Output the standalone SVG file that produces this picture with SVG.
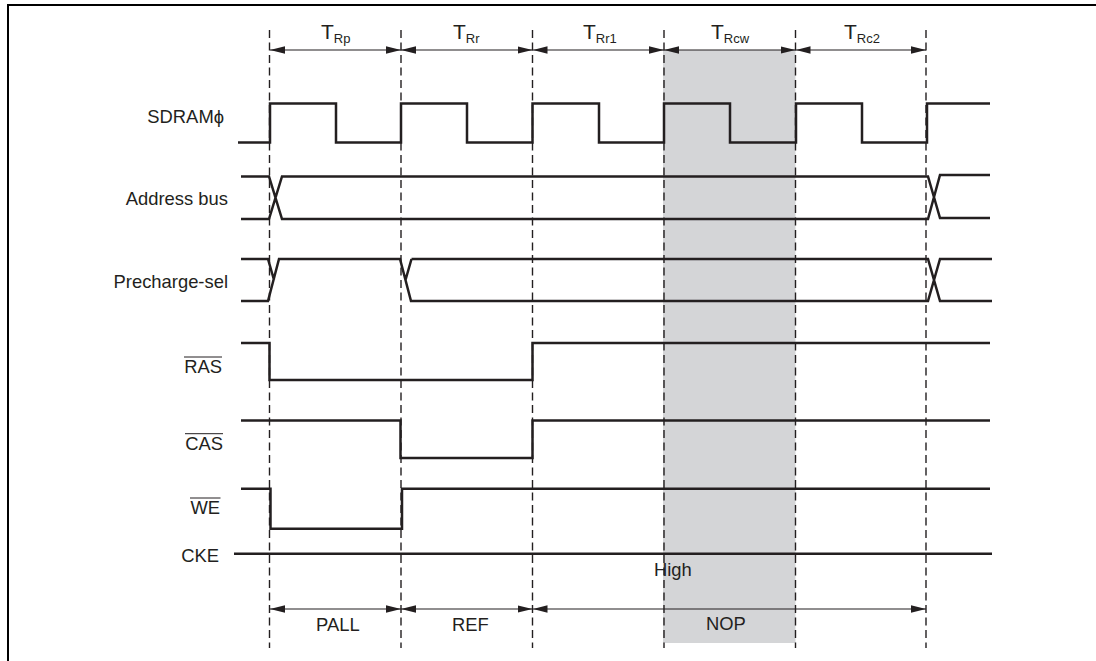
<svg xmlns="http://www.w3.org/2000/svg" width="1096" height="661" viewBox="0 0 1096 661">
<style>
text{font-family:"Liberation Sans",Arial,sans-serif;font-size:18.400px;fill:#231f20}
.e{text-anchor:end}
.t{font-size:21px}.s{font-size:13px}
.w{fill:none;stroke:#231f20;stroke-width:2.500}
.g{fill:none;stroke:#231f20;stroke-width:1.400;stroke-dasharray:8 4.500}
.d{fill:none;stroke:#231f20;stroke-width:1.200;marker-start:url(#as);marker-end:url(#ae)}
.o{stroke:#231f20;stroke-width:1}
</style>
<defs>
<marker id="ae" markerUnits="userSpaceOnUse" markerWidth="15" markerHeight="8" refX="15" refY="4" orient="auto"><path d="M0 .3L15 4L0 7.700z" fill="#231f20"/></marker>
<marker id="as" markerUnits="userSpaceOnUse" markerWidth="15" markerHeight="8" refX="0" refY="4" orient="auto"><path d="M15 .3L0 4L15 7.700z" fill="#231f20"/></marker>
</defs>
<rect width="1096" height="661" fill="#fff"/>
<path id="frame" d="M8 661V5H1096" fill="none" stroke="#000" stroke-width="2"/>
<rect id="shade" x="663" y="50" width="132.500" height="593" fill="#d4d5d7"/>
<g id="connectors">
<path class="g" d="M269.500 30V648M401 30V648M532.500 30V648M664 30V648M795.500 30V648M926 30V648"/>
<path class="d" d="M270 50H401"/><path class="d" d="M401 50H532.500"/><path class="d" d="M532.500 50H664"/><path class="d" d="M664 50H795.500"/><path class="d" d="M795.500 50H926"/>
<path class="d" d="M270 609H401"/><path class="d" d="M401 609H532.500"/><path class="d" d="M532.500 609H926"/>
</g>
<g id="periods">
<text class="t" x="321" y="39">T<tspan class="s" dy="4">Rp</tspan></text>
<text class="t" x="453" y="39">T<tspan class="s" dy="4">Rr</tspan></text>
<text class="t" x="583" y="39">T<tspan class="s" dy="4">Rr1</tspan></text>
<text class="t" x="711" y="39">T<tspan class="s" dy="4">Rcw</tspan></text>
<text class="t" x="844" y="39">T<tspan class="s" dy="4">Rc2</tspan></text>
</g>
<g id="sdram-clock">
<text class="e" x="224" y="123">SDRAMϕ</text>
<path class="w" d="M238 142.500H270V103.500H336V142.500H401V103.500H467V142.500H532.500V103.500H599V142.500H664V103.500H730V142.500H796V103.500H862V142.500H927V103.500H990"/>
</g>
<g id="address-bus">
<text class="e" x="228" y="205">Address bus</text>
<path class="w" d="M241 176.500H269L282 219H928L940 175H990M241 219H269L282 176.500H928L940 218H990"/>
</g>
<g id="precharge-sel">
<text class="e" x="228" y="288">Precharge-sel</text>
<path class="w" d="M241 259H268L274 280M241 301H268L279 259H400L411 301H928L940 259H992M411.500 259L405.500 280M411.500 259H928L940 301H992"/>
</g>
<g id="ras">
<line class="o" x1="184" y1="357" x2="222" y2="357"/>
<text class="e" x="222" y="373">RAS</text>
<path class="w" d="M241 343H269.500V380H532.500V343H990"/>
</g>
<g id="cas">
<line class="o" x1="185" y1="433.700" x2="223" y2="433.700"/>
<text class="e" x="223" y="450">CAS</text>
<path class="w" d="M241 420.500H400.500V458H532.500V420.500H990"/>
</g>
<g id="we">
<line class="o" x1="190" y1="498" x2="220.500" y2="498"/>
<text class="e" x="220" y="514">WE</text>
<path class="w" d="M241 488.700H270.500V528.700H402V488.700H990"/>
</g>
<g id="cke">
<text class="e" x="219" y="562">CKE</text>
<path class="w" d="M234 553.700H992"/>
<text x="654" y="576">High</text>
</g>
<g id="commands">
<text x="316" y="631">PALL</text>
<text x="452" y="631">REF</text>
<text x="706" y="630">NOP</text>
</g>
</svg>
